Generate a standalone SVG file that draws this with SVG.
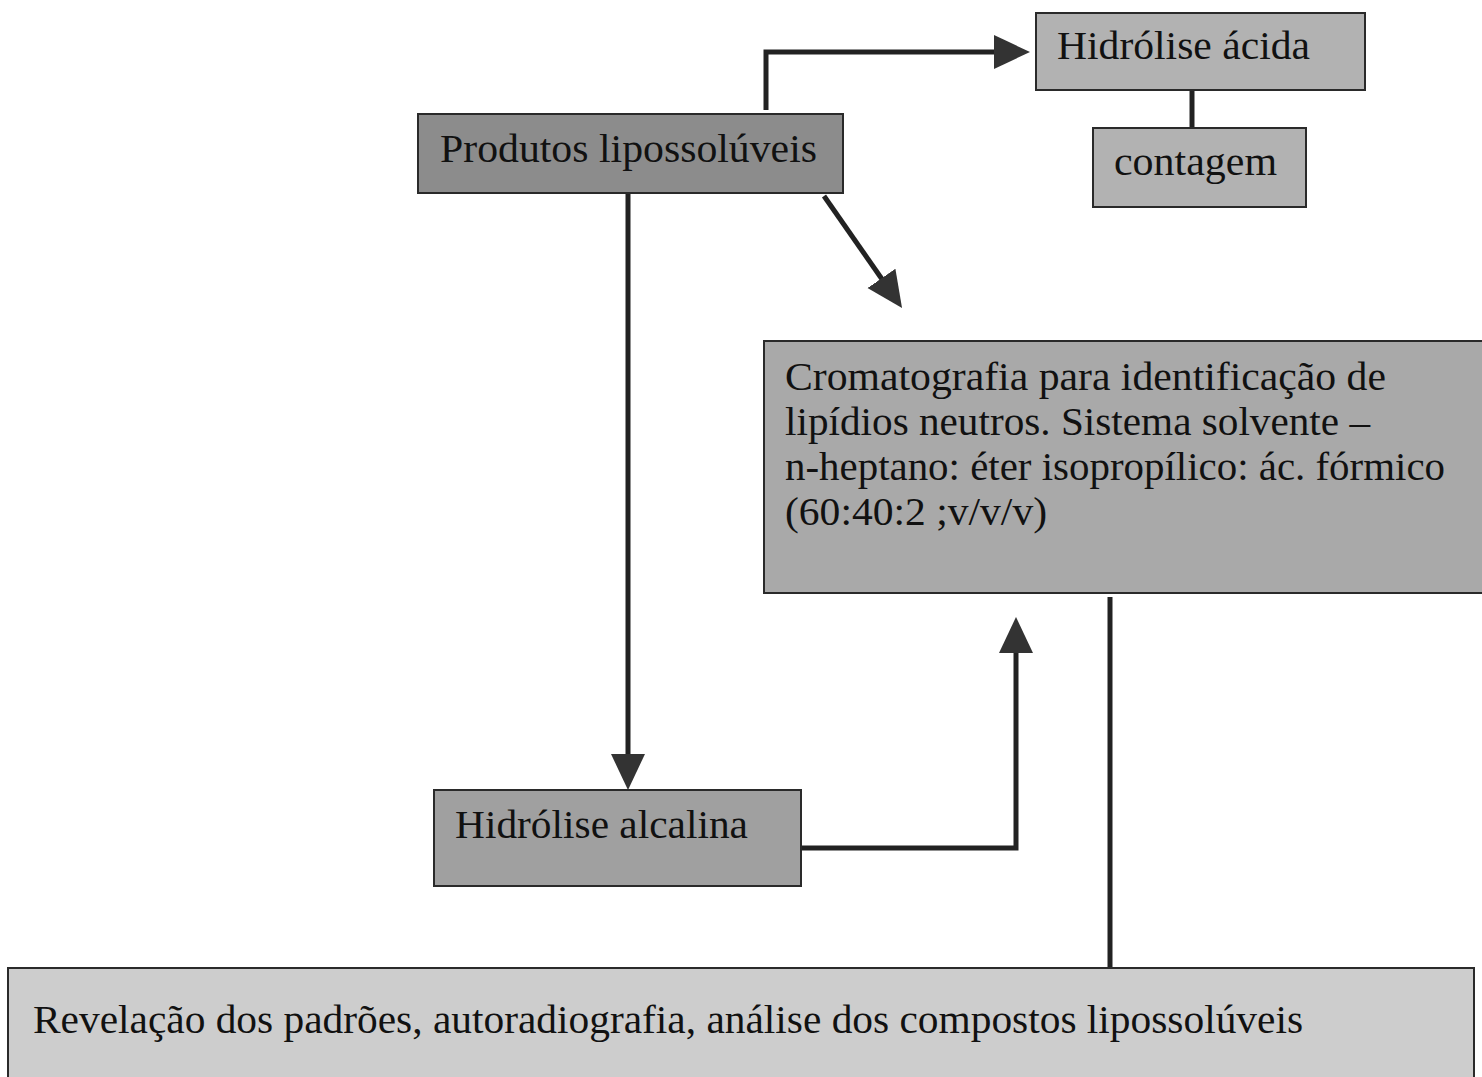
<svg xmlns="http://www.w3.org/2000/svg" width="1482" height="1077" viewBox="0 0 1482 1077">
<style>
.box{stroke:#2a2a2a;stroke-width:2}
.t{font-family:"Liberation Serif","DejaVu Serif",serif;font-size:39px;fill:#111}
.c{fill:none;stroke:#222;stroke-width:5}
</style>
<defs>
<marker id="ah" markerUnits="userSpaceOnUse" markerWidth="40" markerHeight="38" refX="16" refY="19" orient="auto">
<path d="M0,2 L36,19 L0,36 Z" fill="#333"/>
</marker>
</defs>
<rect width="1482" height="1077" fill="#fff"/>
<g id="connectors">
<path class="c" d="M766,110 V52 H1010" marker-end="url(#ah)"/>
<path class="c" d="M824,196 L890.6,291.5" marker-end="url(#ah)"/>
<path class="c" d="M628,194 V770" marker-end="url(#ah)"/>
<path class="c" d="M801,848 H1016 V637" marker-end="url(#ah)"/>
<path class="c" d="M1192,90 V128" stroke-width="6"/>
<path class="c" d="M1110,597 V968" stroke-width="4"/>
</g>
<g id="n-produtos">
<rect class="box" x="418" y="114" width="425" height="79" fill="#8c8c8c"/>
<text class="t" x="440" y="162" textLength="377" lengthAdjust="spacingAndGlyphs">Produtos lipossolúveis</text>
</g>
<g id="n-acida">
<rect class="box" x="1036" y="13" width="329" height="77" fill="#b2b2b2"/>
<text class="t" x="1057" y="59" textLength="253" lengthAdjust="spacingAndGlyphs">Hidrólise ácida</text>
</g>
<g id="n-contagem">
<rect class="box" x="1093" y="128" width="213" height="79" fill="#b2b2b2"/>
<text class="t" x="1114" y="175" textLength="163" lengthAdjust="spacingAndGlyphs">contagem</text>
</g>
<g id="n-croma">
<rect class="box" x="764" y="341" width="720" height="252" fill="#a9a9a9"/>
<text class="t" x="785" y="390" textLength="601" lengthAdjust="spacingAndGlyphs">Cromatografia para identificação de</text>
<text class="t" x="785" y="435" textLength="585" lengthAdjust="spacingAndGlyphs">lipídios neutros. Sistema solvente –</text>
<text class="t" x="785" y="480" textLength="660" lengthAdjust="spacingAndGlyphs">n-heptano: éter isopropílico: ác. fórmico</text>
<text class="t" x="785" y="525" textLength="262" lengthAdjust="spacingAndGlyphs">(60:40:2 ;v/v/v)</text>
</g>
<g id="n-alcalina">
<rect class="box" x="434" y="790" width="367" height="96" fill="#a0a0a0"/>
<text class="t" x="455" y="838" textLength="293" lengthAdjust="spacingAndGlyphs">Hidrólise alcalina</text>
</g>
<g id="n-revelacao">
<rect class="box" x="8" y="968" width="1466" height="120" fill="#cdcdcd"/>
<text class="t" x="33" y="1033" textLength="1270" lengthAdjust="spacingAndGlyphs">Revelação dos padrões, autoradiografia, análise dos compostos lipossolúveis</text>
</g>
</svg>
